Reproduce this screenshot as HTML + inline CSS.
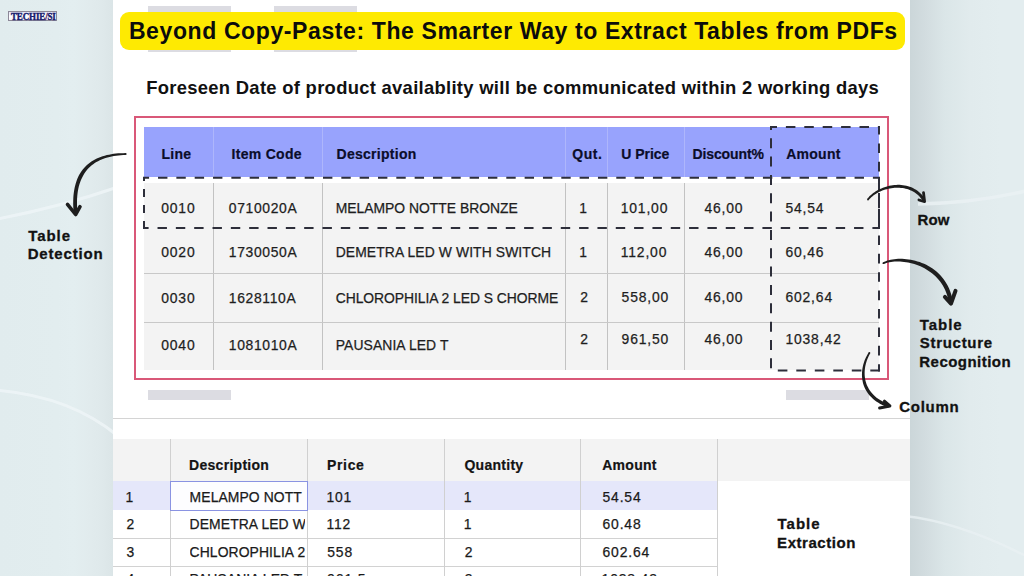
<!DOCTYPE html>
<html><head><meta charset="utf-8">
<style>
*{margin:0;padding:0;box-sizing:border-box}
html,body{width:1024px;height:576px;overflow:hidden}
body{position:relative;background:#e2edef;font-family:"Liberation Sans",sans-serif;color:#1c1c1c}
.a{position:absolute}
.t{position:absolute;white-space:nowrap;line-height:1}
.b{font-weight:bold}
#lp{left:0;top:0;width:113px;height:576px;background:linear-gradient(90deg,#e1ecee 0,#e2edef 50%,#e3eef0 65%,#e1ebed 80%,#dfe9eb 90%,#dbe5e7 100%)}
#rp{left:910px;top:0;width:114px;height:576px;background:linear-gradient(90deg,#cbd6d9 0,#d2dcdf 15px,#dbe6e8 35px,#e1ebed 60px,#e3edef 90px,#e3edef 100%)}
#wp{left:112.5px;top:0;width:797.5px;height:576px;background:#fff}
.hd{font-weight:bold;color:#0b0d2a}
.cd{color:#1e1e1e;-webkit-text-stroke:0.25px #1e1e1e}
.lbl{font-weight:bold;color:#151515}
</style></head><body>
<div id="lp" class="a"></div>
<div id="rp" class="a"></div>
<svg class="a" style="left:0;top:0" width="1024" height="576" viewBox="0 0 1024 576">
<path d="M-5,219.5 Q60,207 118,187" stroke="#edf4f6" stroke-width="3" fill="none" opacity="0.9"/>
<path d="M-5,390 Q70,396 118,436" stroke="#edf4f6" stroke-width="3" fill="none" opacity="0.9"/>
<path d="M918,204 Q975,203 1030,190" stroke="#eaf1f3" stroke-width="3.5" fill="none" opacity="0.85"/>
<path d="M905,516 Q960,522 1030,558" stroke="#e9f0f2" stroke-width="2.5" fill="none" opacity="0.8"/>
</svg>
<div id="wp" class="a"></div>
<div class="a" style="left:8px;top:11px;width:48.5px;height:10px;background:linear-gradient(#e4e4f4,#ffffff 60%,#f4f0fa);border:1px solid #8c8898"></div>
<div class="t b" style="left:11px;top:11.6px;font-size:9px;line-height:9px;color:#161a6c;-webkit-text-stroke:0.35px #161a6c;font-family:'Liberation Serif',serif;letter-spacing:-0.15px;transform:scaleY(1.12);transform-origin:0 0">TECHIE<span style="color:#d42a3a">/</span>SI</div>
<div class="a" style="left:148.30px;top:6.00px;width:83.00px;height:45.50px;background:#dcdce2;"></div>
<div class="a" style="left:273.60px;top:6.00px;width:83.00px;height:45.50px;background:#dcdce2;"></div>
<div class="a" style="left:119.50px;top:12.00px;width:785.50px;height:37.50px;background:#feea02;border-radius:9px"></div>
<div class="t b" style="left:128.90px;top:19.93px;font-size:23px;color:#0c0c0c;letter-spacing:0.61px">Beyond Copy-Paste: The Smarter Way to Extract Tables from PDFs</div>
<div class="t b" style="left:146.20px;top:78.62px;font-size:18.4px;letter-spacing:0.3px;color:#111">Foreseen Date of product availablity will be communicated within 2 working days</div>
<div class="a" style="left:134.00px;top:116.00px;width:754.50px;height:264.00px;background:transparent;border:2px solid #d95878"></div>
<div class="a" style="left:143.50px;top:127.00px;width:735.50px;height:50.00px;background:#98a3fd;"></div>
<div class="a" style="left:143.50px;top:183.00px;width:735.50px;height:186.50px;background:#f3f3f3;"></div>
<div class="a" style="left:213.00px;top:127.00px;width:1.00px;height:50.00px;background:#aeb6fc;"></div>
<div class="a" style="left:213.00px;top:183.00px;width:1.00px;height:186.50px;background:#c2c2c2;"></div>
<div class="a" style="left:322.00px;top:127.00px;width:1.00px;height:50.00px;background:#aeb6fc;"></div>
<div class="a" style="left:322.00px;top:183.00px;width:1.00px;height:186.50px;background:#c2c2c2;"></div>
<div class="a" style="left:565.00px;top:127.00px;width:1.00px;height:50.00px;background:#aeb6fc;"></div>
<div class="a" style="left:565.00px;top:183.00px;width:1.00px;height:186.50px;background:#c2c2c2;"></div>
<div class="a" style="left:607.00px;top:127.00px;width:1.00px;height:50.00px;background:#aeb6fc;"></div>
<div class="a" style="left:607.00px;top:183.00px;width:1.00px;height:186.50px;background:#c2c2c2;"></div>
<div class="a" style="left:684.00px;top:127.00px;width:1.00px;height:50.00px;background:#aeb6fc;"></div>
<div class="a" style="left:684.00px;top:183.00px;width:1.00px;height:186.50px;background:#c2c2c2;"></div>
<div class="a" style="left:143.50px;top:273.00px;width:735.50px;height:1.00px;background:#c8c8c8;"></div>
<div class="a" style="left:143.50px;top:322.00px;width:735.50px;height:1.00px;background:#c8c8c8;"></div>
<div class="t hd" style="left:161.40px;top:146.65px;font-size:14px;letter-spacing:0.28px;-webkit-text-stroke:0.2px #0b0d2a">Line</div>
<div class="t hd" style="left:231.60px;top:146.65px;font-size:14px;letter-spacing:0.28px;-webkit-text-stroke:0.2px #0b0d2a">Item Code</div>
<div class="t hd" style="left:336.50px;top:146.65px;font-size:14px;letter-spacing:0.28px;-webkit-text-stroke:0.2px #0b0d2a">Description</div>
<div class="t hd" style="left:572.20px;top:146.65px;font-size:14px;letter-spacing:0.6px;-webkit-text-stroke:0.2px #0b0d2a">Qut.</div>
<div class="t hd" style="left:621.15px;top:146.65px;font-size:14px;letter-spacing:0.0px;-webkit-text-stroke:0.2px #0b0d2a">U Price</div>
<div class="t hd" style="left:692.40px;top:146.65px;font-size:14px;letter-spacing:-0.1px;-webkit-text-stroke:0.2px #0b0d2a">Discount%</div>
<div class="t hd" style="left:786.15px;top:146.65px;font-size:14px;letter-spacing:0.28px;-webkit-text-stroke:0.2px #0b0d2a">Amount</div>
<div class="t cd" style="left:161.20px;top:201.63px;font-size:13.9px;letter-spacing:0.85px">0010</div>
<div class="t cd" style="left:228.80px;top:201.63px;font-size:13.9px;letter-spacing:0.65px">0710020A</div>
<div class="t cd" style="left:335.70px;top:201.63px;font-size:13.9px;letter-spacing:0.0px">MELAMPO NOTTE BRONZE</div>
<div class="t cd" style="left:579.30px;top:201.63px;font-size:13.9px;">1</div>
<div class="t cd" style="left:620.70px;top:201.63px;font-size:13.9px;letter-spacing:0.85px">101,00</div>
<div class="t cd" style="left:704.40px;top:201.63px;font-size:13.9px;letter-spacing:0.85px">46,00</div>
<div class="t cd" style="left:785.40px;top:201.63px;font-size:13.9px;letter-spacing:0.85px">54,54</div>
<div class="t cd" style="left:161.20px;top:245.83px;font-size:13.9px;letter-spacing:0.85px">0020</div>
<div class="t cd" style="left:228.80px;top:245.83px;font-size:13.9px;letter-spacing:0.65px">1730050A</div>
<div class="t cd" style="left:335.70px;top:245.83px;font-size:13.9px;letter-spacing:0.1px">DEMETRA LED W WITH SWITCH</div>
<div class="t cd" style="left:579.30px;top:245.83px;font-size:13.9px;">1</div>
<div class="t cd" style="left:620.70px;top:245.83px;font-size:13.9px;letter-spacing:0.85px">112,00</div>
<div class="t cd" style="left:704.40px;top:245.83px;font-size:13.9px;letter-spacing:0.85px">46,00</div>
<div class="t cd" style="left:785.40px;top:245.83px;font-size:13.9px;letter-spacing:0.85px">60,46</div>
<div class="t cd" style="left:161.20px;top:292.03px;font-size:13.9px;letter-spacing:0.85px">0030</div>
<div class="t cd" style="left:228.80px;top:292.03px;font-size:13.9px;letter-spacing:0.65px">1628110A</div>
<div class="t cd" style="left:335.70px;top:292.03px;font-size:13.9px;letter-spacing:-0.05px">CHLOROPHILIA 2 LED S CHORME</div>
<div class="t cd" style="left:580.20px;top:290.73px;font-size:13.9px;">2</div>
<div class="t cd" style="left:621.60px;top:290.73px;font-size:13.9px;letter-spacing:0.85px">558,00</div>
<div class="t cd" style="left:704.40px;top:290.73px;font-size:13.9px;letter-spacing:0.85px">46,00</div>
<div class="t cd" style="left:785.40px;top:290.73px;font-size:13.9px;letter-spacing:0.85px">602,64</div>
<div class="t cd" style="left:161.20px;top:338.83px;font-size:13.9px;letter-spacing:0.85px">0040</div>
<div class="t cd" style="left:228.80px;top:338.83px;font-size:13.9px;letter-spacing:0.65px">1081010A</div>
<div class="t cd" style="left:335.70px;top:338.83px;font-size:13.9px;letter-spacing:0.1px">PAUSANIA LED T</div>
<div class="t cd" style="left:580.20px;top:333.23px;font-size:13.9px;">2</div>
<div class="t cd" style="left:621.60px;top:333.23px;font-size:13.9px;letter-spacing:0.85px">961,50</div>
<div class="t cd" style="left:704.40px;top:333.23px;font-size:13.9px;letter-spacing:0.85px">46,00</div>
<div class="t cd" style="left:785.40px;top:333.23px;font-size:13.9px;letter-spacing:0.85px">1038,42</div>
<div class="a" style="left:112.50px;top:417.80px;width:797.50px;height:1.00px;background:#d4d4d4;"></div>
<div class="a" style="left:112.50px;top:438.90px;width:797.50px;height:42.60px;background:#f3f3f3;"></div>
<div class="a" style="left:112.50px;top:481.40px;width:604.70px;height:29.10px;background:#e5e7fa;"></div>
<div class="a" style="left:112.50px;top:538.00px;width:604.70px;height:1.00px;background:#d2d2d2;"></div>
<div class="a" style="left:112.50px;top:565.60px;width:604.70px;height:1.00px;background:#d2d2d2;"></div>
<div class="a" style="left:169.90px;top:438.90px;width:1.00px;height:137.10px;background:#d0d0d0;"></div>
<div class="a" style="left:307.10px;top:438.90px;width:1.00px;height:137.10px;background:#d0d0d0;"></div>
<div class="a" style="left:443.50px;top:438.90px;width:1.00px;height:137.10px;background:#d0d0d0;"></div>
<div class="a" style="left:580.30px;top:438.90px;width:1.00px;height:137.10px;background:#d0d0d0;"></div>
<div class="a" style="left:716.70px;top:438.90px;width:1.00px;height:137.10px;background:#d0d0d0;"></div>
<div class="a" style="left:169.80px;top:481.20px;width:138.40px;height:29.60px;background:#fdfdff;border:1.8px solid #8a93e2"></div>
<div class="t b" style="left:189.10px;top:457.55px;font-size:14px;color:#141414;letter-spacing:0.28px;-webkit-text-stroke:0.2px #141414">Description</div>
<div class="t b" style="left:327.00px;top:457.55px;font-size:14px;color:#141414;letter-spacing:0.65px;-webkit-text-stroke:0.2px #141414">Price</div>
<div class="t b" style="left:464.40px;top:457.55px;font-size:14px;color:#141414;letter-spacing:0.28px;-webkit-text-stroke:0.2px #141414">Quantity</div>
<div class="t b" style="left:602.20px;top:457.55px;font-size:14px;color:#141414;letter-spacing:0.28px;-webkit-text-stroke:0.2px #141414">Amount</div>
<div class="t " style="left:125.50px;top:491.23px;font-size:13.9px;color:#1a1a1a;-webkit-text-stroke:0.25px #1a1a1a;">1</div>
<div class="t " style="left:189.60px;top:491.23px;font-size:13.9px;color:#1a1a1a;-webkit-text-stroke:0.25px #1a1a1a;width:115.9px;overflow:hidden;letter-spacing:0.1px">MELAMPO NOTT</div>
<div class="t " style="left:326.40px;top:491.23px;font-size:13.9px;color:#1a1a1a;-webkit-text-stroke:0.25px #1a1a1a;letter-spacing:0.85px">101</div>
<div class="t " style="left:463.80px;top:491.23px;font-size:13.9px;color:#1a1a1a;-webkit-text-stroke:0.25px #1a1a1a;">1</div>
<div class="t " style="left:602.50px;top:491.23px;font-size:13.9px;color:#1a1a1a;-webkit-text-stroke:0.25px #1a1a1a;letter-spacing:0.85px">54.54</div>
<div class="t " style="left:126.40px;top:518.03px;font-size:13.9px;color:#1a1a1a;-webkit-text-stroke:0.25px #1a1a1a;">2</div>
<div class="t " style="left:189.60px;top:518.03px;font-size:13.9px;color:#1a1a1a;-webkit-text-stroke:0.25px #1a1a1a;width:115.9px;overflow:hidden;letter-spacing:0.1px">DEMETRA LED W</div>
<div class="t " style="left:326.40px;top:518.03px;font-size:13.9px;color:#1a1a1a;-webkit-text-stroke:0.25px #1a1a1a;letter-spacing:0.85px">112</div>
<div class="t " style="left:463.80px;top:518.03px;font-size:13.9px;color:#1a1a1a;-webkit-text-stroke:0.25px #1a1a1a;">1</div>
<div class="t " style="left:602.50px;top:518.03px;font-size:13.9px;color:#1a1a1a;-webkit-text-stroke:0.25px #1a1a1a;letter-spacing:0.85px">60.48</div>
<div class="t " style="left:126.40px;top:545.63px;font-size:13.9px;color:#1a1a1a;-webkit-text-stroke:0.25px #1a1a1a;">3</div>
<div class="t " style="left:189.60px;top:545.63px;font-size:13.9px;color:#1a1a1a;-webkit-text-stroke:0.25px #1a1a1a;width:115.9px;overflow:hidden;letter-spacing:0.1px">CHLOROPHILIA 2</div>
<div class="t " style="left:327.30px;top:545.63px;font-size:13.9px;color:#1a1a1a;-webkit-text-stroke:0.25px #1a1a1a;letter-spacing:0.85px">558</div>
<div class="t " style="left:464.70px;top:545.63px;font-size:13.9px;color:#1a1a1a;-webkit-text-stroke:0.25px #1a1a1a;">2</div>
<div class="t " style="left:602.50px;top:545.63px;font-size:13.9px;color:#1a1a1a;-webkit-text-stroke:0.25px #1a1a1a;letter-spacing:0.85px">602.64</div>
<div class="t " style="left:126.40px;top:573.23px;font-size:13.9px;color:#1a1a1a;-webkit-text-stroke:0.25px #1a1a1a;">4</div>
<div class="t " style="left:189.60px;top:573.23px;font-size:13.9px;color:#1a1a1a;-webkit-text-stroke:0.25px #1a1a1a;width:115.9px;overflow:hidden;letter-spacing:0.1px">PAUSANIA LED T</div>
<div class="t " style="left:327.30px;top:573.23px;font-size:13.9px;color:#1a1a1a;-webkit-text-stroke:0.25px #1a1a1a;letter-spacing:0.85px">961.5</div>
<div class="t " style="left:464.70px;top:573.23px;font-size:13.9px;color:#1a1a1a;-webkit-text-stroke:0.25px #1a1a1a;">2</div>
<div class="t " style="left:601.60px;top:573.23px;font-size:13.9px;color:#1a1a1a;-webkit-text-stroke:0.25px #1a1a1a;letter-spacing:0.85px">1038.42</div>
<div class="a" style="left:148.30px;top:389.70px;width:83.20px;height:9.90px;background:#dcdce2;"></div>
<div class="a" style="left:785.70px;top:389.70px;width:83.00px;height:9.90px;background:#dcdce2;"></div>
<div class="t b" style="left:28.20px;top:227.90px;font-size:15px;color:#121212;letter-spacing:0.93px;-webkit-text-stroke:0.3px #121212">Table</div>
<div class="t b" style="left:27.70px;top:246.00px;font-size:15px;color:#121212;letter-spacing:0.83px;-webkit-text-stroke:0.3px #121212">Detection</div>
<div class="t b" style="left:917.50px;top:212.30px;font-size:15px;color:#121212;letter-spacing:0.18px;-webkit-text-stroke:0.3px #121212">Row</div>
<div class="t b" style="left:919.80px;top:317.05px;font-size:15px;color:#121212;letter-spacing:0.93px;-webkit-text-stroke:0.3px #121212">Table</div>
<div class="t b" style="left:919.80px;top:335.10px;font-size:15px;color:#121212;letter-spacing:0.70px;-webkit-text-stroke:0.3px #121212">Structure</div>
<div class="t b" style="left:919.30px;top:353.70px;font-size:15px;color:#121212;letter-spacing:0.46px;-webkit-text-stroke:0.3px #121212">Recognition</div>
<div class="t b" style="left:899.20px;top:398.80px;font-size:15px;color:#121212;letter-spacing:0.73px;-webkit-text-stroke:0.3px #121212">Column</div>
<div class="t b" style="left:777.60px;top:516.30px;font-size:15px;color:#121212;letter-spacing:0.98px;-webkit-text-stroke:0.3px #121212">Table</div>
<div class="t b" style="left:777.10px;top:534.50px;font-size:15px;color:#121212;letter-spacing:0.54px;-webkit-text-stroke:0.3px #121212">Extraction</div>
<svg class="a" style="left:0;top:0" width="1024" height="576" viewBox="0 0 1024 576">
<line x1="143" y1="177.8" x2="880" y2="177.8" stroke="#2d2e3a" stroke-width="2" fill="none" stroke-dasharray="9.4 8.93" stroke-dashoffset="3.3"/>
<line x1="143" y1="228" x2="880" y2="228" stroke="#2d2e3a" stroke-width="2" fill="none" stroke-dasharray="9.4 8.93" stroke-dashoffset="3.8"/>
<line x1="144" y1="177" x2="144" y2="229" stroke="#2d2e3a" stroke-width="2" fill="none" stroke-dasharray="8 8" stroke-dashoffset="4"/>
<line x1="879" y1="177" x2="879" y2="229" stroke="#2d2e3a" stroke-width="2" fill="none" stroke-dasharray="13 3" stroke-dashoffset="0"/>
<line x1="770" y1="127" x2="880" y2="127" stroke="#2d2e3a" stroke-width="2" fill="none" stroke-dasharray="9.5 8.9" stroke-dashoffset="2.5"/>
<line x1="770" y1="370.5" x2="880" y2="370.5" stroke="#2d2e3a" stroke-width="2" fill="none" stroke-dasharray="9.6 8.9" stroke-dashoffset="10.7"/>
<line x1="771" y1="126" x2="771" y2="371.5" stroke="#2d2e3a" stroke-width="2" fill="none" stroke-dasharray="10 8.34" stroke-dashoffset="6.1"/>
<line x1="879" y1="126" x2="879" y2="371.5" stroke="#2d2e3a" stroke-width="2" fill="none" stroke-dasharray="9.6 8.8" stroke-dashoffset="1"/>
<path d="M125.69,153.10 L123.16,153.13 L120.68,153.22 L118.25,153.37 L115.87,153.59 L113.54,153.87 L111.25,154.22 L109.03,154.63 L106.85,155.12 L104.72,155.67 L102.65,156.29 L100.64,156.99 L98.68,157.76 L96.78,158.61 L94.94,159.54 L93.16,160.54 L91.45,161.62 L89.79,162.79 L88.20,164.03 L86.68,165.36 L85.23,166.78 L83.85,168.27 L82.55,169.86 L81.31,171.53 L80.16,173.28 L79.08,175.12 L78.12,177.07 L77.24,179.09 L76.45,181.20 L75.74,183.39 L75.12,185.67 L74.58,188.03 L74.13,190.48 L73.76,193.01 L73.48,195.62 L73.30,198.33 L73.20,201.12 L73.19,204.00 L73.27,206.97 L73.44,210.03 L73.71,213.18 L77.49,212.82 L77.23,209.76 L77.07,206.81 L76.99,203.95 L77.00,201.19 L77.09,198.53 L77.27,195.95 L77.53,193.48 L77.88,191.09 L78.30,188.80 L78.80,186.60 L79.38,184.48 L80.04,182.46 L80.77,180.52 L81.57,178.66 L82.45,176.89 L83.36,175.18 L84.34,173.55 L85.39,171.99 L86.52,170.51 L87.72,169.10 L88.98,167.76 L90.32,166.49 L91.73,165.29 L93.20,164.15 L94.75,163.09 L96.37,162.09 L98.05,161.15 L99.80,160.29 L101.62,159.49 L103.50,158.75 L105.45,158.08 L107.46,157.48 L109.54,156.94 L111.67,156.46 L113.87,156.04 L116.13,155.69 L118.44,155.40 L120.81,155.17 L123.23,155.01 L125.71,154.90Z" fill="#1e1e1e"/><circle cx="125.7" cy="154" r="0.90" fill="#1e1e1e"/>
<path d="M67.5,204.3 L75.6,214.5 L80,206.7" stroke="#1e1e1e" fill="none" stroke-linecap="round" stroke-linejoin="round" stroke-width="3.6"/>
<path d="M868.72,200.04 L869.50,199.09 L870.35,198.17 L871.28,197.27 L872.27,196.39 L873.34,195.54 L874.46,194.73 L875.64,193.94 L876.88,193.19 L878.17,192.48 L879.51,191.81 L880.89,191.18 L882.31,190.60 L883.76,190.06 L885.25,189.57 L886.77,189.14 L888.30,188.76 L889.86,188.43 L891.44,188.16 L893.02,187.96 L894.62,187.81 L896.21,187.73 L897.81,187.72 L899.41,187.78 L900.99,187.90 L902.57,188.10 L904.13,188.35 L905.67,188.67 L907.20,189.08 L908.70,189.56 L910.17,190.13 L911.62,190.78 L913.03,191.51 L914.40,192.34 L915.73,193.25 L917.02,194.26 L918.27,195.37 L919.47,196.57 L920.61,197.88 L921.70,199.29 L922.73,200.81 L925.27,199.19 L924.13,197.53 L922.93,195.97 L921.66,194.52 L920.33,193.18 L918.94,191.96 L917.51,190.83 L916.02,189.81 L914.49,188.90 L912.93,188.08 L911.33,187.36 L909.70,186.73 L908.04,186.20 L906.37,185.76 L904.67,185.40 L902.97,185.13 L901.25,184.96 L899.53,184.87 L897.81,184.86 L896.09,184.93 L894.38,185.06 L892.69,185.27 L891.00,185.53 L889.34,185.87 L887.70,186.26 L886.08,186.71 L884.49,187.22 L882.93,187.78 L881.41,188.40 L879.93,189.06 L878.49,189.77 L877.10,190.52 L875.76,191.32 L874.47,192.16 L873.24,193.03 L872.07,193.94 L870.97,194.89 L869.93,195.86 L868.97,196.87 L868.08,197.90 L867.28,198.96Z" fill="#1e1e1e"/><circle cx="868" cy="199.5" r="0.90" fill="#1e1e1e"/>
<path d="M923.5,192.7 L924.6,201.6 L918.9,200" stroke="#1e1e1e" fill="none" stroke-linecap="round" stroke-linejoin="round" stroke-width="2.8"/>
<path d="M883.80,264.01 L885.06,263.49 L886.42,263.03 L887.87,262.62 L889.41,262.28 L891.03,262.00 L892.72,261.78 L894.48,261.62 L896.30,261.54 L898.17,261.52 L900.09,261.57 L902.05,261.70 L904.05,261.90 L906.07,262.18 L908.12,262.53 L910.18,262.97 L912.24,263.48 L914.31,264.08 L916.37,264.75 L918.43,265.52 L920.46,266.37 L922.47,267.30 L924.45,268.33 L926.39,269.44 L928.29,270.65 L930.14,271.94 L931.97,273.30 L933.73,274.74 L935.44,276.29 L937.08,277.94 L938.64,279.69 L940.12,281.54 L941.52,283.50 L942.82,285.57 L944.03,287.75 L945.14,290.04 L946.14,292.45 L947.02,294.98 L947.78,297.63 L948.42,300.40 L948.92,303.30 L953.08,302.70 L952.54,299.57 L951.85,296.58 L951.02,293.70 L950.06,290.95 L948.97,288.32 L947.76,285.82 L946.43,283.43 L945.00,281.16 L943.47,279.01 L941.84,276.98 L940.13,275.06 L938.34,273.25 L936.48,271.56 L934.55,269.98 L932.56,268.51 L930.50,267.19 L928.39,265.97 L926.25,264.85 L924.08,263.84 L921.89,262.93 L919.68,262.12 L917.47,261.40 L915.25,260.77 L913.03,260.24 L910.83,259.79 L908.64,259.43 L906.47,259.16 L904.33,258.96 L902.22,258.85 L900.15,258.81 L898.13,258.86 L896.16,258.97 L894.25,259.16 L892.40,259.42 L890.62,259.75 L888.92,260.15 L887.30,260.62 L885.77,261.14 L884.34,261.74 L883.00,262.39Z" fill="#1e1e1e"/><circle cx="883.4" cy="263.2" r="0.90" fill="#1e1e1e"/>
<path d="M944.9,296.9 L951,303.6 L955.5,290.8" stroke="#1e1e1e" fill="none" stroke-linecap="round" stroke-linejoin="round" stroke-width="4"/>
<path d="M868.64,352.52 L867.91,353.68 L867.21,354.89 L866.54,356.13 L865.90,357.42 L865.31,358.74 L864.75,360.10 L864.24,361.49 L863.77,362.90 L863.35,364.35 L862.98,365.82 L862.67,367.31 L862.40,368.82 L862.20,370.35 L862.06,371.89 L861.98,373.44 L861.96,375.01 L862.02,376.58 L862.14,378.16 L862.35,379.74 L862.62,381.31 L862.98,382.89 L863.42,384.45 L863.95,386.01 L864.57,387.56 L865.28,389.09 L866.10,390.58 L867.02,392.05 L868.04,393.49 L869.15,394.90 L870.37,396.28 L871.69,397.62 L873.11,398.91 L874.64,400.17 L876.27,401.38 L878.02,402.53 L879.88,403.64 L881.85,404.69 L883.94,405.69 L886.14,406.63 L888.46,407.51 L889.54,404.49 L887.33,403.66 L885.25,402.78 L883.29,401.84 L881.45,400.85 L879.72,399.83 L878.11,398.75 L876.60,397.64 L875.20,396.49 L873.90,395.31 L872.71,394.10 L871.61,392.85 L870.60,391.58 L869.69,390.28 L868.86,388.96 L868.12,387.62 L867.44,386.27 L866.83,384.90 L866.30,383.51 L865.85,382.10 L865.48,380.69 L865.17,379.26 L864.93,377.82 L864.76,376.37 L864.66,374.93 L864.62,373.48 L864.64,372.03 L864.72,370.59 L864.85,369.15 L865.05,367.72 L865.29,366.31 L865.59,364.91 L865.93,363.53 L866.32,362.17 L866.76,360.83 L867.24,359.52 L867.75,358.25 L868.30,357.00 L868.89,355.79 L869.51,354.61 L870.16,353.48Z" fill="#1e1e1e"/><circle cx="869.4" cy="353" r="0.90" fill="#1e1e1e"/>
<path d="M884.4,401.2 L889.9,406 L879.6,408" stroke="#1e1e1e" fill="none" stroke-linecap="round" stroke-linejoin="round" stroke-width="3"/>
</svg>
</body></html>
